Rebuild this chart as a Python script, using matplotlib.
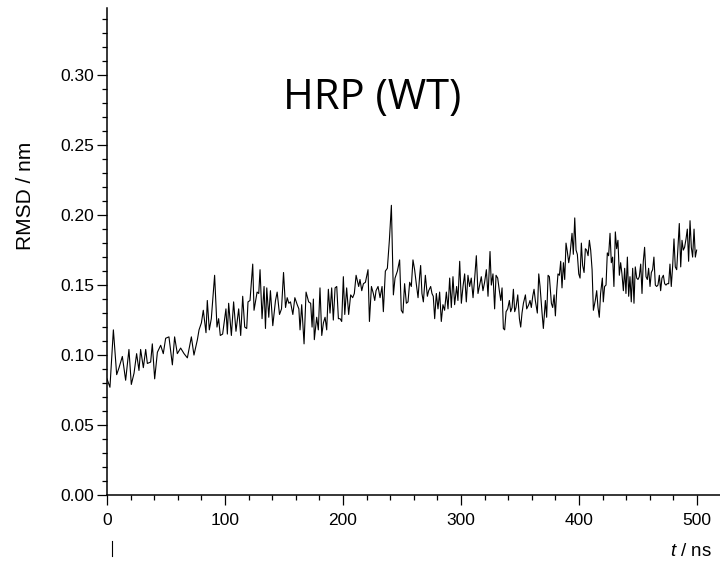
import matplotlib
matplotlib.use("Agg")
import matplotlib.pyplot as plt
from matplotlib.ticker import MultipleLocator
from matplotlib.lines import Line2D
import numpy as np

# RMSD trace (t in ns, rmsd in nm)
t_ns = [0, 2.5, 5.4, 8.2, 10.2, 13.0, 15.8, 18.6, 20.6, 22.9, 25.1, 27.1, 28.5, 30.8,
        32.8, 34.2, 37.0, 38.4, 40.4, 42.7, 45.5, 47.7, 49.7, 52.5, 55.4, 57.3, 59.6,
        62.4, 65.3, 68.1, 71.5, 73.7, 76.6, 78.0, 80.0, 81.6,
        83.9, 85.0, 86.7, 88.4, 91.2, 93.2, 94.6, 96.0, 98.0, 100.8, 102.0, 103.1,
        105.4, 107.3, 109.3, 111.6, 113.3, 115.0, 116.7, 118.4, 119.5, 121.2, 123.5,
        124.6, 127.2, 128.6, 129.7, 131.4, 133.1, 134.3, 135.4, 137.1, 138.5, 140.5,
        142.8, 144.2, 146.2, 147.9, 149.6, 151.3, 152.7, 154.1, 155.5, 157.5, 159.2,
        161.2, 162.6,
        163.6, 165.0, 167.0, 168.7, 170.9, 172.6, 173.8, 174.9, 175.7, 177.7, 179.1,
        180.5, 182.0, 183.4, 184.8, 186.2, 187.6, 189.0, 190.4, 191.8, 193.3, 194.7,
        196.1, 197.5, 198.9, 200.3, 201.5, 203.1, 204.8, 206.5, 208.2, 209.6, 211.1,
        212.2, 213.3, 214.4, 215.9, 217.3, 219.0, 221.2, 222.4, 224.1, 225.7, 226.9,
        228.0, 229.7, 231.4, 233.1, 234.2, 235.9, 237.6, 239.3, 241.0, 242.7, 244.1,
        246.1,
        248.0, 249.4, 250.8, 252.2, 253.7, 255.1, 256.5, 257.9, 259.3, 260.7, 262.1,
        263.6, 265.0, 265.8, 266.9, 268.1, 269.8, 271.5, 272.6, 274.3, 275.4, 276.5,
        277.7, 279.1, 280.5, 281.9, 283.3, 284.7, 286.1, 287.6, 289.0, 290.4, 291.8,
        293.2, 294.6, 296.3, 297.4, 298.9, 300.3, 301.7, 303.1, 304.5, 305.9, 307.3,
        308.7, 310.2, 311.6, 313.0, 314.4, 315.8, 317.2, 318.6, 320.0, 321.5, 322.9,
        324.6, 325.7, 327.1, 328.5,
        329.7, 331.1, 332.5, 333.7, 334.8, 335.9, 337.0, 338.2, 339.6, 341.0, 342.1,
        343.3, 344.4, 345.5, 346.6, 348.1, 349.5, 350.6, 351.7, 352.9, 354.6, 355.7,
        357.4, 358.5, 359.6, 360.8, 361.9, 363.0, 364.7, 365.9, 367.0, 368.7, 369.8,
        371.5, 372.6, 373.8, 374.9, 376.6, 377.7, 378.9, 380.0, 381.1, 382.2, 383.4,
        384.5, 385.6, 386.8, 387.9, 389.0, 390.1, 391.3, 392.4, 394.1, 395.2, 396.4,
        397.5, 398.6, 399.8, 400.9, 402.0, 403.1, 404.3, 405.4, 406.5, 407.7, 408.8,
        409.9, 411.1, 412.2,
        413.8, 415.0, 416.1, 417.2, 418.3, 419.8, 420.6, 421.7, 422.9, 424.0, 425.1,
        426.3, 427.4, 428.5, 429.6, 430.8, 431.9, 433.0, 434.2, 435.3, 436.4, 437.6,
        438.7, 439.8, 441.0, 442.1, 443.2, 444.3, 445.5, 446.6, 447.7, 448.9, 450.0,
        451.1, 452.3, 453.4, 454.5, 455.6, 456.8, 457.9, 459.0, 460.2, 461.3, 462.4,
        463.5, 464.7, 465.8, 466.9, 468.1, 469.2, 470.3, 471.5, 472.6, 473.7, 474.8,
        476.0, 477.1, 478.2, 479.4, 480.5, 481.6, 482.8, 483.9, 485.0, 486.2, 487.3,
        488.4, 489.5, 490.7, 491.8, 492.9, 494.1, 495.2, 496.3, 497.5, 498.6, 499.7]

rmsd_nm = [0.083, 0.077, 0.118, 0.086, 0.091, 0.099, 0.082, 0.104, 0.079, 0.087, 0.101,
           0.089, 0.104, 0.091, 0.104, 0.094, 0.095, 0.108, 0.083, 0.102, 0.107, 0.101,
           0.112, 0.113, 0.093, 0.113, 0.101, 0.105, 0.101, 0.098, 0.113, 0.100, 0.111,
           0.118, 0.123, 0.132,
           0.116, 0.139, 0.118, 0.126, 0.157, 0.120, 0.126, 0.114, 0.115, 0.133, 0.115,
           0.137, 0.114, 0.138, 0.117, 0.133, 0.114, 0.142, 0.120, 0.119, 0.138, 0.139,
           0.165, 0.132, 0.145, 0.144, 0.161, 0.126, 0.149, 0.119, 0.148, 0.127, 0.146,
           0.121, 0.139, 0.145, 0.129, 0.133, 0.159, 0.134, 0.141, 0.137, 0.138, 0.129,
           0.141, 0.136, 0.133,
           0.118, 0.136, 0.108, 0.145, 0.138, 0.137, 0.120, 0.140, 0.111, 0.127, 0.118,
           0.148, 0.114, 0.123, 0.127, 0.118, 0.147, 0.130, 0.148, 0.125, 0.148, 0.149,
           0.126, 0.126, 0.124, 0.156, 0.129, 0.148, 0.129, 0.143, 0.141, 0.144, 0.157,
           0.153, 0.149, 0.154, 0.146, 0.151, 0.152, 0.161, 0.124, 0.149, 0.144, 0.139,
           0.146, 0.149, 0.141, 0.149, 0.131, 0.160, 0.162, 0.182, 0.207, 0.143, 0.155,
           0.160,
           0.168, 0.132, 0.130, 0.151, 0.137, 0.138, 0.152, 0.149, 0.168, 0.161, 0.151,
           0.141, 0.157, 0.164, 0.144, 0.138, 0.157, 0.142, 0.146, 0.149, 0.144, 0.142,
           0.126, 0.144, 0.133, 0.145, 0.124, 0.136, 0.132, 0.145, 0.133, 0.155, 0.134,
           0.156, 0.136, 0.149, 0.139, 0.167, 0.137, 0.149, 0.158, 0.138, 0.157, 0.149,
           0.155, 0.141, 0.155, 0.171, 0.144, 0.150, 0.156, 0.146, 0.152, 0.161, 0.142,
           0.174, 0.150, 0.158, 0.133,
           0.157, 0.155, 0.146, 0.139, 0.148, 0.119, 0.118, 0.131, 0.133, 0.139, 0.131,
           0.134, 0.147, 0.131, 0.134, 0.143, 0.126, 0.120, 0.130, 0.137, 0.143, 0.133,
           0.136, 0.139, 0.134, 0.142, 0.147, 0.139, 0.130, 0.158, 0.149, 0.130, 0.119,
           0.139, 0.127, 0.157, 0.156, 0.137, 0.134, 0.143, 0.128, 0.146, 0.158, 0.157,
           0.167, 0.148, 0.166, 0.154, 0.180, 0.174, 0.166, 0.172, 0.187, 0.172, 0.198,
           0.175, 0.172, 0.158, 0.155, 0.180, 0.164, 0.159, 0.176, 0.175, 0.171, 0.182,
           0.175, 0.161, 0.132,
           0.139, 0.146, 0.134, 0.127, 0.144, 0.155, 0.138, 0.149, 0.150, 0.173, 0.171,
           0.187, 0.166, 0.170, 0.149, 0.188, 0.176, 0.182, 0.157, 0.166, 0.158, 0.146,
           0.162, 0.144, 0.170, 0.142, 0.156, 0.138, 0.162, 0.137, 0.163, 0.155, 0.154,
           0.156, 0.165, 0.144, 0.167, 0.177, 0.156, 0.154, 0.162, 0.149, 0.159, 0.161,
           0.170, 0.150, 0.149, 0.150, 0.157, 0.146, 0.155, 0.157, 0.151, 0.150, 0.151,
           0.151, 0.165, 0.149, 0.164, 0.183, 0.163, 0.161, 0.177, 0.194, 0.163, 0.182,
           0.175, 0.177, 0.183, 0.190, 0.167, 0.196, 0.177, 0.170, 0.190, 0.170, 0.175]

plt.rcParams['font.family'] = ['Liberation Sans', 'DejaVu Sans']
plt.rcParams['mathtext.fontset'] = 'custom'
plt.rcParams['mathtext.it'] = 'Liberation Sans:italic'
plt.rcParams['mathtext.rm'] = 'Liberation Sans'

fig = plt.figure(figsize=(7.2, 5.66), dpi=100)
ax = fig.add_axes([107 / 720, 1 - 495 / 566, 613 / 720, 487 / 566])

ax.plot(t_ns, rmsd_nm, color='black', lw=0.8)

ax.set_xlim(0, 519.5)
ax.set_ylim(0, 0.348)
ax.xaxis.set_major_locator(MultipleLocator(100))
ax.xaxis.set_minor_locator(MultipleLocator(20))
ax.yaxis.set_major_locator(MultipleLocator(0.05))
ax.yaxis.set_minor_locator(MultipleLocator(0.01))
ax.yaxis.set_major_formatter(matplotlib.ticker.FormatStrFormatter('%.2f'))

for side in ['top', 'right']:
    ax.spines[side].set_visible(False)
for side in ['left', 'bottom']:
    ax.spines[side].set_linewidth(1.1)

ax.tick_params(which='major', direction='out', length=7, width=0.9,
               labelsize=12.5)
ax.tick_params(axis='x', which='major', pad=6)
ax.tick_params(axis='y', which='major', pad=2)
ax.tick_params(which='minor', direction='out', length=3.8, width=0.9)

ax.set_ylabel('RMSD / nm', fontsize=15)
ax.yaxis.set_label_coords(-0.118, 0.615)

fig.text(712 / 720, 1 - 551 / 566, r'$\it{t}$ / ns', fontsize=13.5,
         ha='right', va='center')

ax.text(225, 0.284, 'HRP (WT)', fontsize=30, family='Open Sans',
        ha='center', va='center')

# stray tick mark under the origin
fig.add_artist(Line2D([112 / 720, 112 / 720], [1 - 541 / 566, 1 - 556 / 566],
                      color='black', lw=0.8))

fig.savefig('out.png', dpi=100)
